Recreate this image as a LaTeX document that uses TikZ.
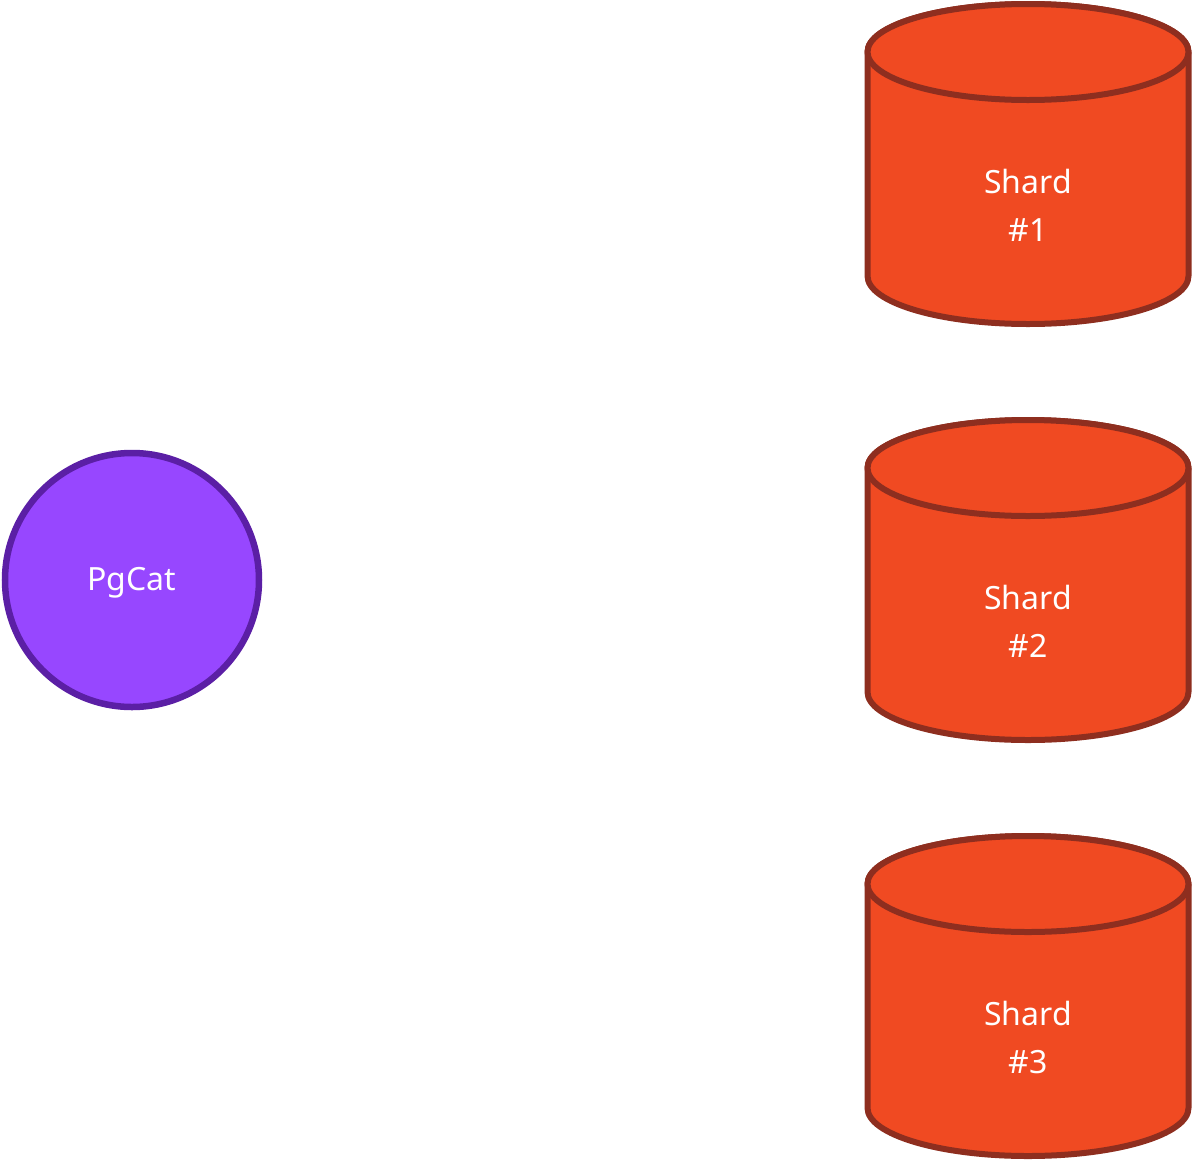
\documentclass[tikz,border=0pt]{standalone}
\usepackage{fontspec}
\setmainfont{Noto Sans}
\definecolor{shardfill}{HTML}{F04A22}
\definecolor{shardline}{HTML}{8E2E1F}
\definecolor{catfill}{HTML}{9747FF}
\definecolor{catline}{HTML}{5B1FA5}
\begin{document}
\begin{tikzpicture}[x=1pt,y=-1pt,
  lbl/.style={text=white,font=\fontsize{32}{48}\selectfont,align=center},
  shardstyle/.style={fill=shardfill,draw=shardline,line width=6pt,line join=round}]
\useasboundingbox (0,0) rectangle (1192,1160);
% PgCat
\node[circle,fill=catfill,draw=catline,line width=6.5pt,minimum size=254pt,inner sep=0pt] (pgcat) at (132,580) {};
\node[lbl] (pgcatlbl) at (132,583) {PgCat};
% shards
\foreach \i/\t in {1/4,2/420,3/836}{
  \pgfmathsetmacro{\tc}{\t+48}
  \pgfmathsetmacro{\bc}{\t+272}
  \pgfmathsetmacro{\mid}{\t+201}
  \draw[shardstyle] (867.5,\tc) -- (867.5,\bc) arc[start angle=180,end angle=0,x radius=160.5,y radius=48] -- (1188.5,\tc) arc[start angle=360,end angle=180,x radius=160.5,y radius=48] -- cycle;
  \draw[shardstyle] (1028,\tc) ellipse[x radius=160.5,y radius=48];
  \node[lbl] (shard\i) at (1028,\mid) {Shard\\\#\i};
}
\end{tikzpicture}
\end{document}
